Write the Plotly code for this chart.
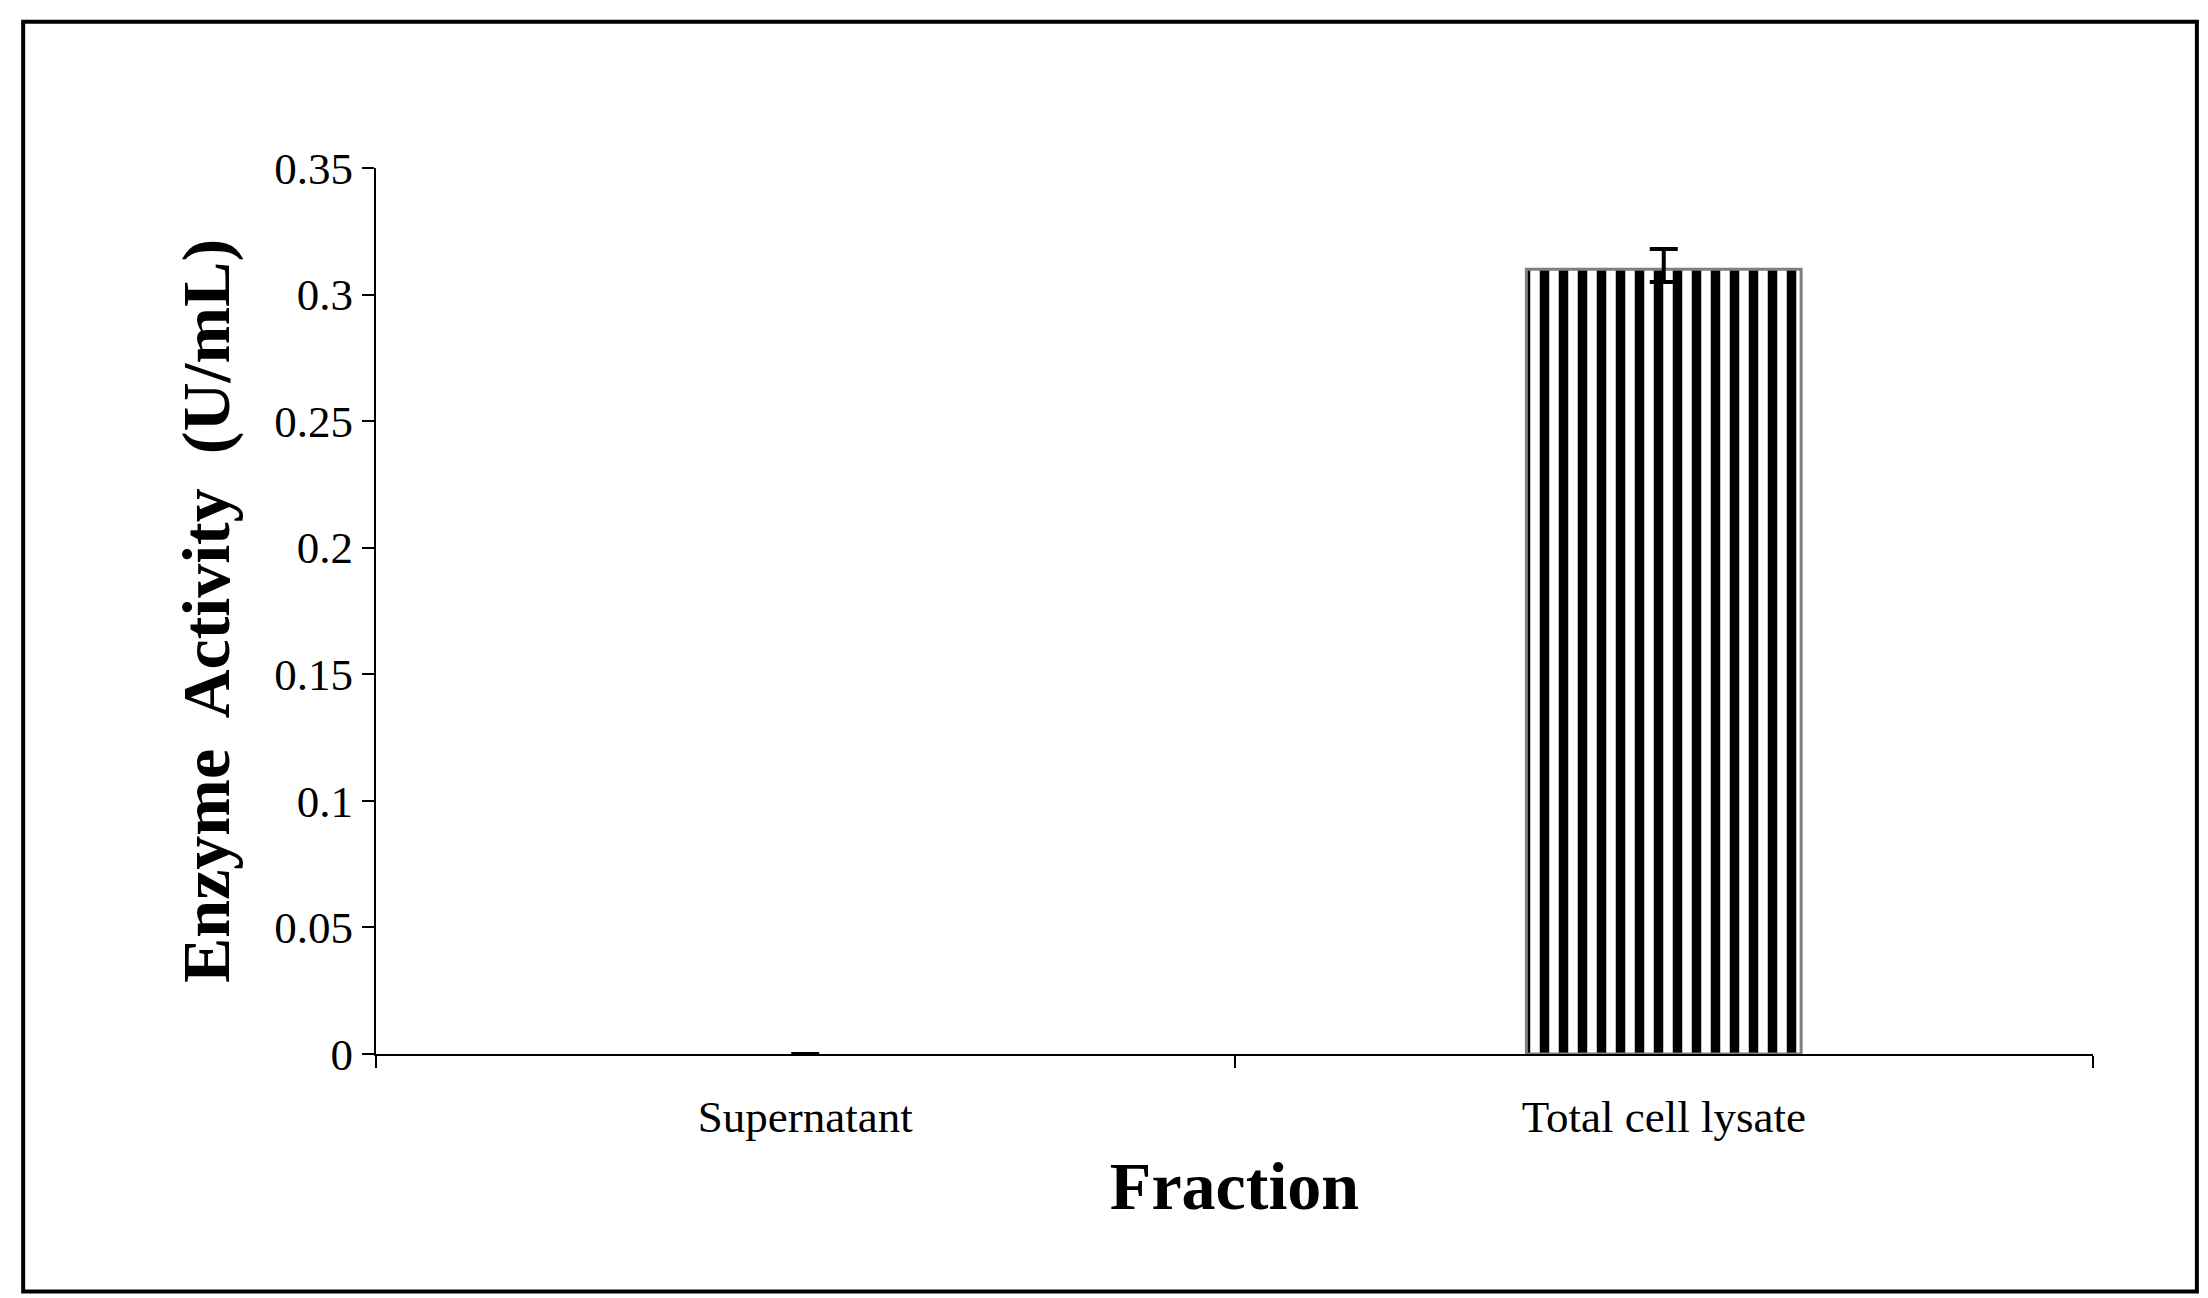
import plotly.graph_objects as go

categories = ["Supernatant", "Total cell lysate"]
positions = [0.5, 1.5]
activity = [0.0, 0.31]
err_plus = [None, 0.008]
err_minus = [None, 0.005]
y_ticks = [0, 0.05, 0.1, 0.15, 0.2, 0.25, 0.3, 0.35]
y_labels = ["0", "0.05", "0.1", "0.15", "0.2", "0.25", "0.3", "0.35"]

serif = "Liberation Serif"

fig = go.Figure()
fig.add_trace(go.Bar(
    x=positions, y=activity, width=0.32,
    marker=dict(color="white", line=dict(color="#808080", width=[0, 3]),
                pattern=dict(shape="|", fgcolor="black", bgcolor="white",
                             fillmode="replace", fgopacity=1,
                             size=19, solidity=0.5)),
    error_y=dict(type="data", array=err_plus, arrayminus=err_minus,
                 color="black", thickness=4, width=14),
))

fig.update_layout(
    width=2208, height=1298, paper_bgcolor="white", plot_bgcolor="white",
    margin=dict(l=368, r=123, t=160, b=252), showlegend=False,
    font=dict(family=serif, color="black", size=45),
    shapes=[dict(type="rect", xref="paper", yref="paper",
                 x0=-0.2055, x1=1.0605, y0=-0.268, y1=1.165,
                 line=dict(color="black", width=4))],
)
fig.update_xaxes(
    range=[0, 2], tickvals=positions, ticktext=categories, ticks="",
    showline=True, linecolor="black", linewidth=2, showgrid=False, zeroline=False,
    minor=dict(tickvals=[0, 1, 2], ticks="outside", ticklen=12,
               tickcolor="black", tickwidth=2),
    tickfont=dict(size=45), ticklabelstandoff=22,
    title=dict(text="<b>Fraction</b>", font=dict(size=68), standoff=20),
)
fig.update_yaxes(
    range=[0, 0.35], tickvals=y_ticks, ticktext=y_labels, ticks="outside",
    ticklen=12, tickcolor="black", tickwidth=2,
    showline=True, linecolor="black", linewidth=2, showgrid=False, zeroline=False,
    tickfont=dict(size=45),
    title=dict(text="<b>Enzyme  Activity  (U/mL)</b>", font=dict(size=68), standoff=22),
)

fig.write_html("out.html")
